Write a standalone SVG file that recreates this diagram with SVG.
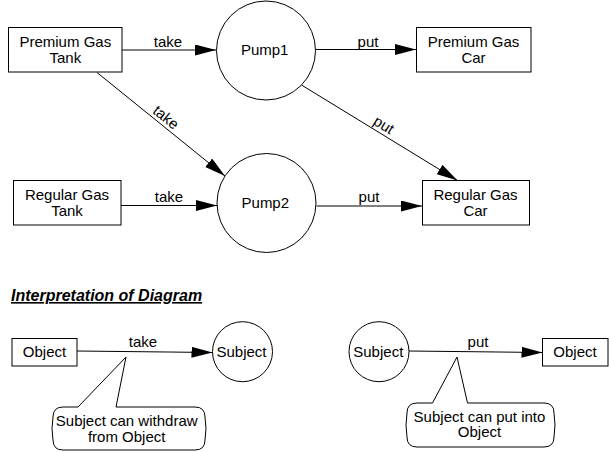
<svg xmlns="http://www.w3.org/2000/svg" width="609" height="452" viewBox="0 0 609 452">
<style>
.box{fill:#fff;stroke:#000;stroke-width:1}
.circ{fill:#fff;stroke:#000;stroke-width:1}
.edge{fill:none;stroke:#000;stroke-width:1}
.t{font-family:"Liberation Sans",Arial,sans-serif;font-size:15px;fill:#000;text-anchor:middle}
.title{font-family:"Liberation Sans",Arial,sans-serif;font-size:16px;font-weight:bold;font-style:italic;text-decoration:underline;fill:#000}
</style>
<defs>
<marker id="arr" markerUnits="userSpaceOnUse" markerWidth="22" markerHeight="12" refX="21" refY="5.5" orient="auto">
<path d="M0,0 L21,5.5 L0,11 Z" fill="#000"/>
</marker>
</defs>
<rect width="609" height="452" fill="#fff"/>
<g id="connectors">
<line class="edge" x1="122" y1="50" x2="216" y2="50" marker-end="url(#arr)"/>
<line class="edge" x1="97" y1="72.5" x2="225" y2="176" marker-end="url(#arr)"/>
<line class="edge" x1="121" y1="205.5" x2="217" y2="205.5" marker-end="url(#arr)"/>
<line class="edge" x1="316" y1="49.5" x2="416" y2="49.5" marker-end="url(#arr)"/>
<line class="edge" x1="301.5" y1="85" x2="457.5" y2="180.5" marker-end="url(#arr)"/>
<line class="edge" x1="316.5" y1="206" x2="422" y2="206" marker-end="url(#arr)"/>
<line class="edge" x1="77" y1="351" x2="212.5" y2="352.5" marker-end="url(#arr)"/>
<line class="edge" x1="409" y1="351" x2="542.5" y2="352.5" marker-end="url(#arr)"/>
<text class="t" x="168" y="46.5">take</text>
<text class="t" transform="translate(162.7,121.3) rotate(38.8)">take</text>
<text class="t" x="169" y="201.5">take</text>
<text class="t" x="368" y="46.5">put</text>
<text class="t" transform="translate(381.2,129.3) rotate(31.7)">put</text>
<text class="t" x="369" y="201.5">put</text>
<text class="t" x="143" y="346.5">take</text>
<text class="t" x="478" y="346.5">put</text>
</g>
<g id="premium-gas-tank">
<rect class="box" x="8.5" y="27.5" width="113.5" height="44.5"/>
<text class="t" x="65.3" y="47.3">Premium Gas</text>
<text class="t" x="65.3" y="62.8">Tank</text>
</g>
<g id="regular-gas-tank">
<rect class="box" x="13.5" y="180.5" width="107.5" height="44.5"/>
<text class="t" x="67" y="200.3">Regular Gas</text>
<text class="t" x="67" y="215.8">Tank</text>
</g>
<g id="pump1">
<circle class="circ" cx="266" cy="50.5" r="49.5"/>
<text class="t" x="264.7" y="55.3">Pump1</text>
</g>
<g id="pump2">
<circle class="circ" cx="266.5" cy="203" r="49.5"/>
<text class="t" x="265.3" y="208.3">Pump2</text>
</g>
<g id="premium-gas-car">
<rect class="box" x="416.5" y="27.5" width="114.5" height="44.5"/>
<text class="t" x="473.5" y="47.3">Premium Gas</text>
<text class="t" x="473.5" y="62.8">Car</text>
</g>
<g id="regular-gas-car">
<rect class="box" x="422.5" y="180.5" width="107" height="44.5"/>
<text class="t" x="475.5" y="200.3">Regular Gas</text>
<text class="t" x="475.5" y="215.8">Car</text>
</g>
<text class="title" x="11" y="301">Interpretation of Diagram</text>
<g id="object-left">
<rect class="box" x="12" y="338.5" width="65" height="27.5"/>
<text class="t" x="44.5" y="357.3">Object</text>
</g>
<g id="subject-left">
<circle class="circ" cx="242.5" cy="351.7" r="30"/>
<text class="t" x="241.5" y="357.3">Subject</text>
</g>
<g id="callout-take">
<path class="box" d="M63,407 L78,407 L126,357 L116,407 L195,407 Q205,407 205,417 Q207,428.5 205,440 Q205,450 195,450 L63,450 Q53,450 53,440 Q51,428.5 53,417 Q53,407 63,407 Z"/>
<text class="t" x="126.7" y="425.5">Subject can withdraw</text>
<text class="t" x="126.7" y="441.5">from Object</text>
</g>
<g id="subject-right">
<circle class="circ" cx="379" cy="351.7" r="30"/>
<text class="t" x="378.3" y="357.3">Subject</text>
</g>
<g id="object-right">
<rect class="box" x="542.5" y="338.5" width="65.5" height="27.5"/>
<text class="t" x="575" y="357.3">Object</text>
</g>
<g id="callout-put">
<path class="box" d="M417,403 L432.5,403 L457,357 L467.5,403 L544,403 Q554,403 554,413 Q556,425 554,437 Q554,447 544,447 L417,447 Q407,447 407,437 Q405,425 407,413 Q407,403 417,403 Z"/>
<text class="t" x="479.5" y="421.5">Subject can put into</text>
<text class="t" x="479.5" y="437.3">Object</text>
</g>
</svg>
